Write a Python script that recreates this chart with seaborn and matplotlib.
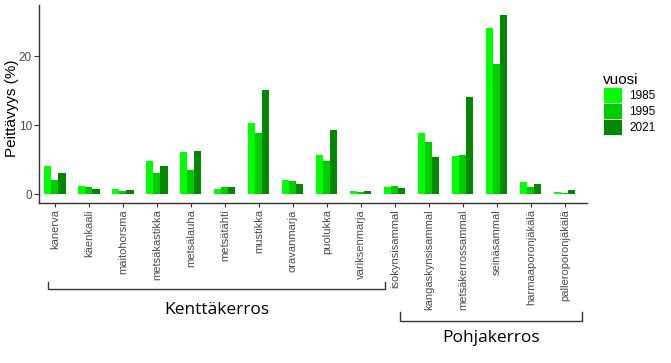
import matplotlib
matplotlib.use("Agg")
import matplotlib.pyplot as plt
import matplotlib.transforms as mtransforms
import seaborn as sns
import pandas as pd

species = ["kanerva", "käenkaali", "maitohorsma", "metsäkastikka", "metsälauha",
           "metsätähti", "mustikka", "oravanmarja", "puolukka", "variksenmarja",
           "isokynsisammal", "kangaskynsisammal", "metsäkerrossammal", "seinäsammal",
           "harmaaporonjäkälä", "palleroporonjäkälä"]
years = ["1985", "1995", "2021"]
v1985 = [4.1, 1.2, 0.68, 4.8, 6.1, 0.7, 10.3, 2.0, 5.7, 0.45, 1.0, 8.8, 5.5, 24.1, 1.8, 0.35]
v1995 = [2.0, 1.05, 0.5, 3.0, 3.5, 0.95, 8.8, 1.85, 4.8, 0.35, 1.1, 7.5, 5.6, 18.9, 1.05, 0.2]
v2021 = [3.0, 0.8, 0.65, 4.1, 6.3, 0.95, 15.1, 1.4, 9.3, 0.45, 0.9, 5.4, 14.0, 26.0, 1.4, 0.55]
colors = ["#00ff00", "#00cc00", "#008800"]

df = pd.DataFrame({
    "laji": species * 3,
    "vuosi": [years[0]] * 16 + [years[1]] * 16 + [years[2]] * 16,
    "peittavyys": v1985 + v1995 + v2021,
})

plt.rcParams["font.family"] = ["Liberation Sans", "DejaVu Sans"]
fig = plt.figure(figsize=(6.71, 3.63), dpi=100)
ax = fig.add_axes([39 / 671, 1 - 203 / 363, 548 / 671, 198 / 363])

sns.barplot(data=df, x="laji", y="peittavyys", hue="vuosi", order=species,
            hue_order=years, palette=colors, width=0.62, saturation=1,
            linewidth=0, ax=ax)

ax.set_xlim(-0.47, 15.65)
ax.set_ylim(-1.3, 27.4)
ax.set_yticks([0, 10, 20])
ax.set_xlabel("")
ax.set_ylabel("Peittävyys (%)", fontsize=11, color="black")
ax.yaxis.set_label_coords(-0.036, 0.48)
ax.tick_params(axis="y", labelsize=8.5, labelcolor="#4d4d4d", length=3.5, color="#333333", pad=1.5)
ax.tick_params(axis="x", labelsize=8, labelcolor="#4d4d4d", length=3, color="#333333",
               labelrotation=90, pad=1.5)
for s in ["top", "right"]:
    ax.spines[s].set_visible(False)
for s in ["left", "bottom"]:
    ax.spines[s].set_color("#333333")
    ax.spines[s].set_linewidth(1)

leg = ax.legend(title="vuosi", loc="upper left", bbox_to_anchor=(1.03, 0.655),
                frameon=False, fontsize=8.5, title_fontsize=11,
                handlelength=1.6, handleheight=1.69, handletextpad=0.6,
                labelspacing=0.0, borderaxespad=0, borderpad=0)
leg._legend_box.align = "left"
for h in leg.legend_handles:
    h.set_edgecolor("white")
    h.set_linewidth(0.6)

# brackets
trans = mtransforms.blended_transform_factory(ax.transData, fig.transFigure)
def bracket(x0, x1, ytop, ybot, label, ytext):
    ax.plot([x0, x0, x1, x1], [1 - ytop / 363, 1 - ybot / 363, 1 - ybot / 363, 1 - ytop / 363],
            color="#333333", lw=1, transform=trans, clip_on=False)
    ax.text((x0 + x1) / 2, 1 - ytext / 363, label, transform=trans, ha="center",
            va="center", fontsize=12.5, family=["Open Sans", "DejaVu Sans"])

bracket(-0.2, 9.7, 282, 289, "Kenttäkerros", 310)
bracket(10.15, 15.5, 312, 321, "Pohjakerros", 338)

fig.savefig("out.png", dpi=100)
